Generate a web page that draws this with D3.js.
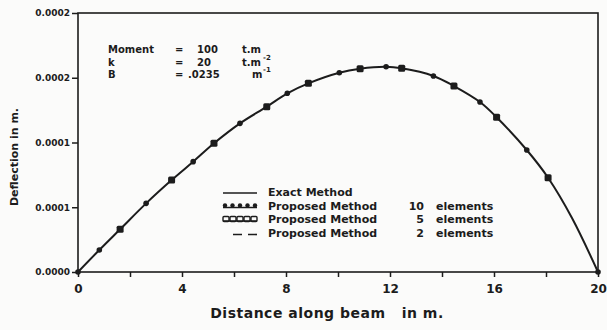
<html>
  <head>
    <style>
      body { margin: 0; background: #fbfbfa; }
      text { font-family: "DejaVu Sans", sans-serif; font-weight: bold; fill: #1c1c1c; }
    </style>
  </head>
  <body>
    <svg></svg>
    <script src="https://d3js.org/d3.v7.min.js"></script>
    <script>
      let width = 607,
        height = 330;

      // values
      const exactX = [0, 0.82, 1.62, 2.62, 3.6, 4.43, 5.23, 6.23, 7.26, 8.05, 8.86, 10.05, 10.85, 11.85, 12.45, 13.67, 14.46, 15.46, 16.1, 17.26, 18.08, 19.0, 20];
      const exactY = [0, 1.7e-5, 3.3e-5, 5.3e-5, 7.1e-5, 8.52e-5, 9.94e-5, 1.148e-4, 1.277e-4, 1.38e-4, 1.457e-4, 1.539e-4, 1.57e-4, 1.585e-4, 1.573e-4, 1.514e-4, 1.436e-4, 1.313e-4, 1.195e-4, 9.42e-5, 7.28e-5, 4.17e-5, 0];
      const tenX = [0, 0.82, 2.62, 4.43, 6.23, 8.05, 10.05, 11.85, 13.67, 15.46, 17.26, 20];
      const tenY = [0, 1.7e-5, 5.3e-5, 8.52e-5, 1.148e-4, 1.38e-4, 1.539e-4, 1.585e-4, 1.514e-4, 1.313e-4, 9.42e-5, 0];
      const fiveX = [1.62, 3.6, 5.23, 7.26, 8.86, 10.85, 12.45, 14.46, 16.1, 18.08];
      const fiveY = [3.3e-5, 7.1e-5, 9.94e-5, 1.277e-4, 1.457e-4, 1.57e-4, 1.573e-4, 1.436e-4, 1.195e-4, 7.28e-5];
      const yTicks = [0, 0.00005, 0.0001, 0.00015, 0.0002];
      const yTickLabels = ["0.0000", "0.0001", "0.0001", "0.0002", "0.0002"];
      const xTicks = [0, 2, 4, 6, 8, 10, 12, 14, 16, 18, 20];
      const xTickLabels = ["0", "4", "8", "12", "16", "20"];

      const ink = "#1c1c1c";
      let svg = d3.select("svg").attr("width", width).attr("height", height);

      let x = d3.scaleLinear().domain([0, 20]).range([78, 598]);
      let y = d3.scaleLinear().domain([0, 0.0002]).range([272, 13]);

      // frame
      svg.append("rect")
        .attr("x", x(0)).attr("y", y(0.0002))
        .attr("width", x(20) - x(0)).attr("height", y(0) - y(0.0002))
        .attr("fill", "none").attr("stroke", ink).attr("stroke-width", 1.6);

      // axes
      let xAxis = svg.append("g")
        .attr("transform", `translate(0,${y(0)})`)
        .call(d3.axisBottom(x).tickValues(xTicks).tickSize(5)
          .tickFormat(d => xTickLabels.includes(String(d)) ? String(d) : ""));
      xAxis.select(".domain").remove();
      xAxis.selectAll("line").attr("stroke", ink).attr("stroke-width", 1.5);
      xAxis.selectAll("text").attr("font-size", 12).attr("dy", "1.1em")
        .attr("font-family", "DejaVu Sans").attr("fill", ink);

      let yAxis = svg.append("g")
        .attr("transform", `translate(${x(0)},0)`)
        .call(d3.axisLeft(y).tickValues(yTicks).tickSize(6)
          .tickFormat((d, i) => yTickLabels[i]));
      yAxis.select(".domain").remove();
      yAxis.selectAll("line").attr("stroke", ink).attr("stroke-width", 1.5);
      yAxis.selectAll("text").attr("font-size", 9).attr("x", -8)
        .attr("font-family", "DejaVu Sans").attr("fill", ink);

      // exact curve
      let pts = exactX.map((v, i) => [v, exactY[i]]);
      svg.append("path")
        .datum(pts)
        .attr("d", d3.line().x(d => x(d[0])).y(d => y(d[1])).curve(d3.curveCatmullRom))
        .attr("fill", "none").attr("stroke", ink).attr("stroke-width", 2);

      // 10 elements markers
      svg.append("g").selectAll("circle")
        .data(tenX.map((v, i) => [v, tenY[i]]))
        .enter().append("circle")
        .attr("cx", d => x(d[0])).attr("cy", d => y(d[1]))
        .attr("r", 2.8).attr("fill", ink);

      // 5 elements markers
      svg.append("g").selectAll("rect")
        .data(fiveX.map((v, i) => [v, fiveY[i]]))
        .enter().append("rect")
        .attr("x", d => x(d[0]) - 3.5).attr("y", d => y(d[1]) - 3.5)
        .attr("width", 7).attr("height", 7).attr("rx", 1.5)
        .attr("fill", ink);

      // parameter block
      let params = svg.append("g").attr("font-size", 10);
      const pRows = [["Moment", "100", "t.m", ""], ["k", "20", "t.m", "-2"], ["B", ".0235", "m", "-1"]];
      pRows.forEach((r, i) => {
        let yy = 53 + i * 12.5;
        params.append("text").attr("x", 108).attr("y", yy).text(r[0]);
        params.append("text").attr("x", 175).attr("y", yy).text("=");
        params.append("text").attr("x", r[0] == "B" ? 188 : 197).attr("y", yy).text(r[1]);
        params.append("text").attr("x", r[0] == "B" ? 252 : 242).attr("y", yy).text(r[2]);
        if (r[3]) {
          params.append("text").attr("x", 263).attr("y", yy - 6)
            .attr("font-size", 7).text(r[3]);
        }
      });

      // legend
      let lg = svg.append("g").attr("font-size", 11);
      const legY = [192, 205.5, 219, 232.5];
      lg.append("line").attr("x1", 223).attr("x2", 257).attr("y1", legY[0] + 1).attr("y2", legY[0] + 1)
        .attr("stroke", ink).attr("stroke-width", 1.6);
      lg.append("line").attr("x1", 223).attr("x2", 257).attr("y1", legY[1] + 2).attr("y2", legY[1] + 2)
        .attr("stroke", ink).attr("stroke-width", 1.6);
      lg.selectAll(".ld").data(d3.range(5)).enter().append("circle")
        .attr("cx", d => 225 + d * 7.5).attr("cy", legY[1]).attr("r", 2.2).attr("fill", ink);
      lg.append("line").attr("x1", 223).attr("x2", 257).attr("y1", legY[2] + 2).attr("y2", legY[2] + 2)
        .attr("stroke", ink).attr("stroke-width", 1.6);
      lg.selectAll(".ls").data(d3.range(5)).enter().append("rect")
        .attr("x", d => 223 + d * 7).attr("y", legY[2] - 2.5).attr("width", 6).attr("height", 5).attr("rx", 1)
        .attr("fill", "none").attr("stroke", ink).attr("stroke-width", 1.4);
      lg.append("line").attr("x1", 233).attr("x2", 257).attr("y1", legY[3] + 2).attr("y2", legY[3] + 2)
        .attr("stroke", ink).attr("stroke-width", 1.6).attr("stroke-dasharray", "9,6");

      const legNames = ["Exact Method", "Proposed Method", "Proposed Method", "Proposed Method"];
      const legNums = ["", "10", "5", "2"];
      legNames.forEach((n, i) => {
        lg.append("text").attr("x", 268).attr("y", legY[i] + 4).text(n);
        if (legNums[i]) {
          lg.append("text").attr("x", 424).attr("y", legY[i] + 4).attr("text-anchor", "end").text(legNums[i]);
          lg.append("text").attr("x", 436).attr("y", legY[i] + 4).text("elements");
        }
      });

      // axis titles
      svg.append("text").attr("x", 327).attr("y", 318).attr("text-anchor", "middle")
        .attr("font-size", 14).attr("letter-spacing", 0.5).attr("xml:space", "preserve")
        .text("Distance along beam   in m.");
      svg.append("text").attr("transform", "translate(18,157) rotate(-90)")
        .attr("text-anchor", "middle").attr("font-size", 11).text("Deflection in m.");
    </script>
  </body>
</html>
